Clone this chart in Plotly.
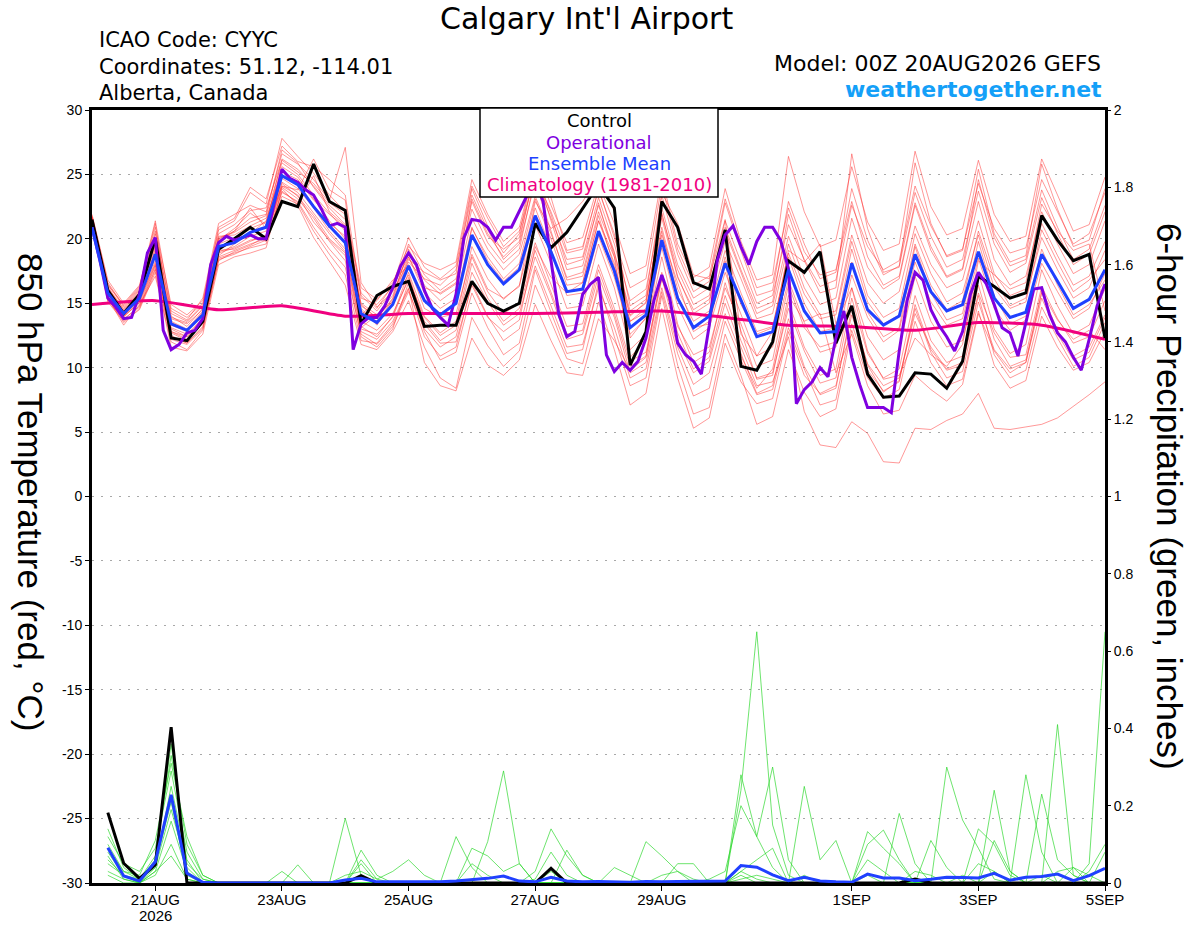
import pandas as pd
import plotly.graph_objects as go

# ---------------- data ----------------
times6 = pd.date_range("2026-08-20 00:00", periods=65, freq="6h")
times3 = pd.date_range("2026-08-20 00:00", periods=129, freq="3h")
times_day = pd.date_range("2026-08-20 00:00", periods=17, freq="D")

control_t = [21.5, 16.0, 14.2, 15.7, 20.0, 12.3, 12.1, 13.6, 19.2, 20.0, 20.9, 20.0, 22.9, 22.5, 25.8, 22.9, 22.2,
             13.4, 15.6, 16.3, 16.7, 13.2, 13.3, 13.3, 16.7, 15.0, 14.4, 15.0, 21.2, 19.3, 20.5, 22.4, 24.2,
             22.4, 10.2, 12.8, 22.9, 20.9, 16.6, 16.1, 20.7, 10.1, 9.8, 12.0, 18.3, 17.4, 19.0, 11.9, 14.8,
             9.5, 7.7, 7.8, 9.6, 9.5, 8.4, 10.5, 17.1, 16.3, 15.4, 15.8, 21.8, 19.9, 18.3, 18.8, 12.3]

mean_t = [20.9, 15.8, 14.2, 15.4, 18.8, 13.4, 12.9, 14.1, 19.4, 19.7, 20.5, 20.9, 24.9, 24.2, 22.5, 21.0, 19.7,
          14.2, 13.5, 14.9, 17.9, 15.2, 14.1, 15.0, 20.3, 18.0, 16.5, 17.6, 21.8, 19.0, 15.9, 16.1, 20.6,
          17.5, 13.1, 14.1, 19.9, 15.4, 13.1, 14.0, 18.1, 15.2, 12.4, 12.8, 17.6, 14.4, 12.7, 12.8, 18.1,
          14.5, 13.3, 14.0, 18.8, 15.9, 14.4, 14.9, 19.0, 15.4, 13.9, 14.3, 18.8, 16.7, 14.6, 15.3, 17.6]

oper_t = [20.9, 18.3, 15.4, 14.7, 13.8, 13.9, 15.7, 18.9, 20.1, 12.9, 11.4, 11.8, 12.7, 12.9, 13.8, 18.0,
          19.7, 20.2, 19.9, 20.1, 20.3, 20.0, 20.0, 22.7, 25.4, 24.7, 24.4, 23.8, 23.4, 22.3, 21.0, 21.2,
          20.9, 11.4, 13.4, 13.9, 13.9, 14.8, 16.2, 17.9, 18.9, 18.0, 16.0, 14.6, 13.9, 13.3, 15.7, 20.1,
          21.5, 21.4, 20.9, 19.9, 20.9, 20.9, 22.2, 23.4, 24.5, 22.9, 18.3, 14.1, 12.4, 12.8, 15.7, 16.5,
          17.0, 11.0, 9.7, 10.4, 9.8, 10.5, 12.3, 15.2, 17.2, 15.4, 11.9, 11.0, 10.5, 9.5, 13.3, 18.3,
          20.3, 21.0, 19.4, 18.0, 19.8, 20.9, 20.9, 19.9, 17.7, 7.2, 8.3, 8.9, 10.0, 9.3, 12.3, 14.4,
          10.8, 8.7, 6.9, 6.9, 6.9, 6.5, 11.3, 15.2, 17.4, 16.8, 14.5, 13.3, 12.4, 11.3, 12.8, 15.7,
          17.4, 16.5, 14.9, 13.1, 12.7, 10.9, 13.5, 16.1, 16.2, 14.1, 12.7, 12.0, 10.8, 9.8, 12.2, 14.8,
          16.5]

clim_t = [14.9, 15.2, 14.5, 14.8, 14.0, 14.2, 14.2, 14.2, 14.3, 14.4, 13.9, 13.3, 13.2, 12.9, 13.5, 13.3, 12.2]

m01 = [21.6, 16.3, 14.5, 15.9, 19.6, 14.0, 13.2, 14.6, 20.1, 20.5, 21.3, 21.8, 25.9, 25.0, 23.4, 22.0, 20.6,
       15.0, 14.1, 15.6, 19.0, 16.4, 15.2, 16.1, 21.6, 19.2, 17.6, 18.8, 23.3, 20.4, 17.0, 17.4, 22.1,
       18.9, 14.4, 15.3, 21.6, 17.0, 14.5, 15.3, 19.8, 16.9, 13.8, 14.2, 19.6, 16.2, 14.1, 14.4, 20.3,
       16.6, 15.0, 15.9, 21.0, 18.0, 16.2, 16.8, 21.4, 17.3, 15.6, 16.1, 21.2, 18.7, 16.4, 17.1, 19.8]
m02 = [21.3, 15.3, 13.7, 14.8, 17.9, 12.5, 11.9, 13.1, 18.4, 18.8, 19.4, 19.9, 23.6, 22.9, 20.9, 19.2, 17.8,
       12.6, 11.8, 13.2, 15.9, 13.0, 11.6, 12.4, 17.4, 15.1, 13.3, 14.2, 18.6, 15.6, 12.2, 12.6, 17.1,
       13.9, 9.6, 10.4, 16.2, 11.6, 8.7, 9.6, 14.2, 11.1, 8.0, 8.6, 13.8, 10.1, 7.9, 8.4, 14.6,
       10.2, 8.1, 9.0, 14.9, 11.4, 9.8, 10.2, 15.6, 11.0, 9.2, 9.8, 14.7, 12.3, 10.1, 10.8, 13.5]
m03 = [21.8, 16.6, 14.8, 16.2, 21.2, 12.8, 12.4, 13.9, 19.8, 20.6, 22.4, 20.8, 24.1, 23.8, 26.2, 23.8, 23.0,
       14.1, 15.2, 16.8, 17.9, 14.6, 13.9, 14.2, 18.8, 16.1, 15.4, 16.3, 22.9, 20.8, 21.6, 22.9, 24.8,
       22.1, 12.3, 13.9, 23.6, 21.2, 17.2, 16.9, 21.5, 12.6, 10.9, 12.8, 19.1, 18.2, 19.6, 13.4, 16.2,
       11.3, 9.1, 9.4, 12.3, 11.0, 10.1, 11.8, 18.3, 17.2, 16.1, 16.6, 22.7, 20.6, 19.1, 19.6, 14.4]
m04 = [21.4, 15.6, 14.0, 15.1, 18.3, 13.1, 12.6, 13.8, 19.1, 19.2, 19.8, 20.3, 24.4, 23.6, 22.0, 20.4, 19.0,
       13.6, 12.9, 14.2, 16.8, 13.9, 12.5, 13.3, 18.6, 15.9, 14.2, 15.0, 19.7, 16.4, 13.2, 13.4, 18.0,
       14.6, 10.5, 11.2, 17.0, 12.2, 9.6, 10.5, 15.0, 11.6, 8.6, 8.9, 12.4, 6.6, 4.0, 3.8, 5.8,
       4.9, 2.7, 2.6, 5.3, 5.2, 5.9, 6.4, 8.0, 5.3, 5.2, 5.4, 5.6, 6.1, 7.0, 7.9, 8.9]
m05 = [21.2, 15.1, 13.6, 14.5, 17.4, 11.6, 11.3, 12.6, 18.0, 18.6, 18.9, 19.3, 23.9, 22.6, 20.1, 18.2, 16.4,
       11.8, 11.4, 12.8, 15.2, 11.6, 9.2, 8.4, 13.9, 11.7, 10.1, 11.3, 16.4, 13.6, 10.7, 10.3, 15.1,
       11.4, 7.1, 8.0, 14.6, 9.2, 5.3, 6.1, 11.9, 8.9, 7.2, 7.6, 12.8, 9.4, 8.0, 8.6, 14.1,
       10.3, 8.6, 9.2, 14.2, 11.6, 9.9, 10.4, 15.8, 12.7, 10.8, 11.0, 16.3, 13.8, 11.9, 12.4, 15.2]
m06 = [21.9, 16.8, 15.0, 16.4, 20.9, 14.9, 14.1, 15.2, 20.7, 21.4, 23.6, 22.7, 27.8, 26.4, 25.1, 23.4, 22.1,
       16.2, 15.3, 16.6, 19.4, 18.1, 17.6, 18.2, 24.6, 21.9, 19.8, 20.9, 25.9, 22.6, 19.7, 20.1, 24.3,
       21.2, 17.3, 17.9, 24.8, 19.6, 17.0, 17.8, 23.9, 19.8, 16.8, 17.2, 26.4, 22.1, 19.4, 19.9, 25.6,
       21.3, 19.1, 19.6, 26.8, 22.5, 20.3, 20.8, 26.1, 21.9, 19.8, 20.2, 26.2, 23.4, 20.6, 21.1, 24.8]
m07 = [21.5, 15.9, 14.3, 15.5, 19.2, 13.6, 13.0, 14.4, 19.6, 20.1, 20.8, 21.3, 25.6, 24.8, 23.1, 21.4, 20.0,
       14.8, 13.9, 15.3, 18.6, 15.8, 14.6, 15.4, 20.9, 18.3, 16.7, 17.8, 22.4, 19.2, 15.6, 15.8, 20.2,
       17.0, 12.6, 13.8, 19.3, 14.8, 12.2, 13.1, 17.4, 14.1, 10.9, 11.6, 16.8, 13.5, 11.2, 11.6, 17.2,
       13.9, 12.0, 12.9, 18.2, 15.1, 13.3, 13.8, 18.5, 14.6, 12.9, 13.7, 18.1, 15.9, 13.8, 14.6, 17.3]
m08 = [21.7, 16.1, 14.6, 16.0, 20.4, 14.4, 13.7, 15.4, 21.2, 21.9, 22.6, 22.1, 26.6, 25.8, 24.6, 23.0, 27.1,
       16.6, 14.7, 15.9, 18.2, 16.9, 16.4, 17.6, 23.4, 20.7, 18.4, 19.6, 24.4, 20.6, 16.8, 17.1, 21.8,
       17.8, 13.6, 14.3, 20.6, 15.6, 12.8, 13.6, 18.6, 14.9, 12.6, 13.1, 18.9, 15.7, 13.8, 14.1, 19.8,
       15.6, 13.9, 14.6, 20.4, 17.3, 15.1, 15.8, 20.3, 16.2, 14.6, 15.1, 20.7, 18.2, 15.9, 16.8, 18.4]
m09 = [21.1, 15.4, 13.3, 14.9, 17.1, 12.0, 11.4, 12.9, 18.3, 19.0, 19.5, 20.2, 24.1, 23.4, 21.3, 19.9, 18.7,
       12.8, 12.2, 13.6, 16.2, 10.4, 8.6, 8.2, 12.3, 10.2, 9.4, 10.6, 14.9, 12.1, 9.6, 9.4, 13.8,
       12.1, 9.8, 10.8, 16.9, 13.2, 11.0, 11.6, 16.2, 13.4, 10.1, 10.6, 16.4, 13.1, 11.6, 12.0, 18.2,
       14.3, 12.4, 13.1, 19.4, 15.8, 13.7, 14.2, 19.8, 15.6, 13.4, 14.0, 19.2, 16.4, 14.1, 14.9, 16.8]
m10 = [21.6, 16.2, 14.4, 15.8, 19.9, 13.9, 13.5, 14.8, 20.2, 20.3, 21.0, 21.6, 25.2, 24.6, 23.0, 21.9, 20.9,
       15.6, 14.4, 16.0, 19.6, 17.2, 16.0, 16.9, 22.3, 19.7, 18.1, 19.2, 24.8, 21.6, 18.4, 18.6, 23.2,
       19.6, 15.2, 16.1, 22.4, 18.0, 15.4, 16.2, 21.4, 18.2, 15.0, 15.6, 21.1, 18.4, 16.3, 16.8, 22.6,
       19.4, 17.6, 18.3, 24.1, 21.0, 18.7, 19.2, 24.3, 20.8, 18.9, 19.3, 24.6, 22.1, 19.6, 20.4, 23.6]
m11 = [21.3, 15.7, 14.1, 15.3, 18.6, 13.0, 12.4, 13.6, 19.0, 19.4, 20.2, 20.6, 24.7, 23.9, 22.4, 20.6, 19.2,
       13.2, 12.4, 14.0, 17.4, 14.0, 12.7, 13.6, 19.4, 16.9, 15.3, 16.4, 21.1, 18.1, 14.6, 14.8, 19.6,
       16.2, 11.4, 12.6, 18.6, 13.4, 10.4, 11.2, 16.6, 12.8, 9.1, 9.4, 15.1, 11.6, 9.4, 9.9, 16.2,
       12.4, 10.6, 11.4, 17.1, 13.6, 11.6, 12.1, 17.4, 13.0, 11.1, 11.8, 17.6, 14.8, 12.6, 13.3, 16.1]
m12 = [21.5, 16.0, 14.2, 15.6, 19.4, 13.3, 12.8, 14.2, 19.9, 20.8, 22.0, 21.1, 26.2, 25.4, 24.1, 22.6, 21.5,
       14.6, 13.3, 15.0, 18.4, 17.4, 16.8, 17.3, 23.9, 21.0, 18.9, 20.4, 26.0, 23.2, 19.1, 19.4, 23.8,
       20.4, 14.8, 15.6, 23.4, 18.8, 15.9, 16.7, 22.8, 19.1, 15.6, 16.0, 22.9, 19.6, 16.9, 17.4, 23.9,
       19.9, 17.2, 17.9, 23.6, 20.2, 17.8, 18.4, 23.7, 19.6, 17.4, 18.1, 23.2, 20.4, 18.0, 18.8, 22.1]
m13 = [21.4, 15.5, 13.9, 15.2, 18.1, 12.7, 12.1, 13.5, 18.7, 19.6, 20.4, 19.8, 23.3, 22.7, 24.9, 22.1, 21.0,
       13.1, 14.1, 15.1, 17.2, 13.4, 11.9, 12.0, 16.4, 13.9, 12.8, 13.7, 19.4, 17.0, 15.8, 16.6, 21.4,
       18.6, 10.8, 12.2, 20.3, 16.6, 13.1, 13.4, 18.3, 10.9, 8.4, 9.9, 15.6, 13.6, 14.2, 9.6, 12.6,
       8.6, 6.4, 6.7, 9.4, 8.3, 7.4, 8.7, 14.2, 11.3, 9.6, 10.4, 15.9, 13.7, 12.2, 12.9, 11.4]
m14 = [21.6, 15.8, 14.4, 15.5, 19.0, 13.8, 13.4, 14.5, 19.3, 19.8, 20.4, 21.4, 25.3, 24.2, 22.6, 21.2, 20.2,
       14.4, 13.6, 15.2, 18.0, 15.3, 14.2, 15.1, 20.8, 18.6, 16.9, 18.1, 23.1, 20.0, 16.4, 16.6, 21.4,
       18.1, 13.6, 14.6, 20.9, 16.1, 13.6, 14.4, 19.1, 15.8, 12.8, 13.2, 18.6, 15.0, 12.8, 13.1, 19.2,
       15.1, 13.4, 14.1, 19.6, 16.4, 14.5, 15.2, 20.6, 16.9, 14.8, 15.4, 20.1, 17.6, 15.4, 16.2, 19.1]
m15 = [21.2, 15.2, 13.8, 14.7, 17.7, 12.2, 11.8, 13.0, 18.6, 19.1, 19.6, 20.0, 24.0, 23.1, 21.6, 19.8, 18.3,
       12.4, 11.6, 13.0, 16.6, 12.8, 10.6, 11.2, 15.8, 13.1, 11.0, 11.9, 17.6, 14.3, 11.1, 11.4, 16.6,
       12.4, 8.6, 9.2, 15.6, 10.2, 6.4, 6.9, 12.6, 9.4, 5.6, 6.2, 11.4, 8.1, 6.2, 6.8, 12.9,
       9.2, 7.6, 8.3, 13.6, 10.4, 8.6, 9.1, 14.4, 10.2, 8.4, 9.0, 14.0, 11.6, 9.8, 10.4, 12.8]
m16 = [21.7, 16.4, 14.9, 16.3, 21.4, 14.6, 13.9, 15.0, 20.9, 21.6, 24.0, 23.1, 27.2, 26.0, 25.6, 24.6, 23.4,
       15.4, 14.9, 16.3, 18.6, 16.2, 15.8, 16.6, 22.9, 20.2, 19.2, 20.1, 25.2, 21.9, 18.0, 18.4, 22.6,
       19.0, 14.1, 15.0, 21.9, 17.6, 14.9, 15.6, 20.6, 17.4, 14.2, 14.8, 20.2, 17.0, 14.9, 15.4, 21.6,
       17.8, 16.1, 16.9, 22.6, 19.1, 17.0, 17.6, 22.9, 18.4, 16.4, 17.1, 22.1, 19.6, 17.3, 18.0, 21.4]
m17 = [21.5, 16.1, 14.3, 15.6, 19.8, 13.5, 12.9, 14.3, 20.0, 20.6, 21.6, 21.9, 26.9, 25.9, 24.0, 22.4, 21.1,
       14.9, 13.8, 15.4, 19.2, 16.8, 15.7, 16.5, 23.1, 20.4, 18.6, 19.8, 25.4, 21.4, 17.6, 17.9, 22.8,
       18.6, 14.0, 15.1, 22.0, 17.1, 14.2, 15.0, 20.9, 17.6, 14.6, 15.1, 21.9, 18.3, 15.8, 16.2, 26.6,
       20.8, 17.4, 17.8, 25.9, 21.2, 18.6, 19.1, 25.4, 20.4, 18.2, 18.7, 25.8, 22.3, 19.4, 19.9, 23.9]
m18 = [21.3, 15.5, 14.0, 15.0, 18.0, 12.8, 12.2, 13.4, 18.9, 19.3, 19.9, 20.1, 24.3, 23.3, 21.8, 20.0, 18.9,
       13.0, 12.6, 13.9, 17.0, 13.6, 12.1, 12.9, 18.1, 15.4, 13.6, 14.6, 19.1, 15.9, 12.6, 12.9, 17.6,
       14.2, 10.1, 10.9, 17.4, 12.7, 9.9, 10.8, 15.6, 12.1, 9.2, 9.6, 14.6, 11.3, 8.8, 9.2, 15.4,
       11.1, 9.2, 9.9, 15.6, 12.1, 10.4, 10.9, 16.4, 12.2, 10.1, 10.6, 15.8, 12.9, 10.9, 11.6, 14.1]
m19 = [21.7, 16.5, 14.7, 16.1, 20.6, 14.2, 13.6, 14.9, 20.4, 21.1, 22.2, 22.4, 26.1, 25.2, 24.3, 22.8, 21.9,
       15.8, 14.6, 16.4, 20.1, 17.8, 16.9, 17.9, 24.1, 21.6, 19.4, 20.6, 24.9, 22.1, 18.9, 19.2, 23.9,
       20.1, 16.2, 16.9, 24.2, 19.2, 16.4, 17.1, 23.1, 19.4, 16.2, 16.6, 22.4, 19.0, 17.2, 17.6, 22.9,
       18.6, 16.4, 17.1, 22.8, 19.4, 17.1, 17.7, 24.6, 20.1, 17.9, 18.4, 23.8, 20.9, 18.4, 19.2, 22.6]
m20 = [21.2, 15.4, 13.5, 14.6, 17.6, 12.4, 11.9, 13.2, 18.5, 18.9, 19.3, 19.6, 23.7, 22.8, 20.6, 18.8, 17.2,
       12.1, 11.9, 13.4, 16.1, 12.4, 10.9, 11.6, 16.6, 14.0, 12.1, 13.0, 17.9, 14.8, 11.6, 11.8, 16.2,
       13.1, 9.2, 9.9, 15.9, 11.1, 7.8, 8.4, 13.6, 10.6, 7.9, 8.3, 13.1, 9.9, 7.1, 7.5, 13.4,
       9.8, 8.2, 8.9, 14.6, 11.2, 9.2, 9.7, 15.1, 11.4, 9.9, 10.4, 15.4, 12.6, 10.6, 11.2, 13.9]
members_t = [m01, m02, m03, m04, m05, m06, m07, m08, m09, m10,
             m11, m12, m13, m14, m15, m16, m17, m18, m19, m20]

# 6-hour precipitation (inches), valid from +6h to +384h
control_p = [0.182, 0.051, 0.012, 0.047, 0.403, 0, 0, 0, 0, 0, 0, 0, 0, 0, 0, 0,
             0.019, 0, 0, 0, 0, 0, 0, 0, 0, 0, 0, 0, 0.038, 0, 0, 0,
             0, 0, 0, 0, 0, 0, 0, 0, 0, 0, 0, 0, 0, 0, 0, 0,
             0, 0, 0, 0.01, 0, 0, 0, 0, 0, 0, 0, 0, 0, 0, 0, 0]
mean_p = [0.091, 0.018, 0.005, 0.055, 0.228, 0.025, 0.002, 0, 0, 0, 0, 0, 0, 0, 0, 0.008,
          0.012, 0.003, 0.003, 0.004, 0.003, 0.003, 0.005, 0.008, 0.012, 0.018, 0.005, 0.003, 0.015, 0.005, 0.003, 0.004,
          0.003, 0.002, 0.004, 0.003, 0.004, 0.004, 0.005, 0.005, 0.045, 0.041, 0.021, 0.006, 0.015, 0.005, 0.003, 0.002,
          0.023, 0.013, 0.013, 0.006, 0.01, 0.015, 0.014, 0.013, 0.025, 0.007, 0.015, 0.017, 0.023, 0.006, 0.019, 0.038]
g01 = [0.14, 0.04, 0.01, 0.06, 0.36, 0.05, 0.01, 0, 0, 0, 0, 0.03, 0, 0, 0, 0.167,
       0.02, 0, 0, 0, 0, 0, 0, 0, 0.107, 0.29, 0.05, 0, 0.03, 0, 0, 0,
       0, 0, 0, 0, 0, 0, 0, 0, 0.24, 0.65, 0.15, 0.02, 0, 0, 0, 0,
       0, 0, 0, 0, 0, 0.30, 0.163, 0.09, 0.01, 0, 0, 0, 0, 0, 0.03, 0.10]
g02 = [0.10, 0.03, 0.02, 0.11, 0.31, 0.12, 0.02, 0, 0, 0, 0, 0, 0.047, 0, 0, 0,
       0.085, 0.02, 0, 0, 0, 0, 0.12, 0.04, 0, 0, 0, 0.03, 0.14, 0.07, 0.02, 0,
       0, 0, 0, 0, 0.05, 0.05, 0, 0, 0.28, 0.12, 0.30, 0.06, 0, 0, 0, 0,
       0.133, 0.09, 0.05, 0, 0, 0, 0, 0, 0.24, 0.03, 0, 0, 0, 0, 0.05, 0.65]
g03 = [0.08, 0.02, 0, 0.04, 0.25, 0.06, 0, 0, 0, 0, 0, 0, 0, 0, 0, 0,
       0.06, 0.01, 0.03, 0.06, 0.02, 0, 0, 0.09, 0.07, 0.03, 0.05, 0, 0, 0.085, 0.02, 0,
       0, 0, 0.107, 0.07, 0.03, 0, 0, 0, 0.02, 0, 0, 0, 0.25, 0.06, 0.11, 0,
       0.10, 0.137, 0.06, 0, 0, 0, 0, 0.14, 0.10, 0.02, 0, 0, 0, 0, 0, 0]
g04 = [0.05, 0.02, 0, 0.03, 0.16, 0.03, 0, 0, 0, 0, 0, 0, 0, 0, 0, 0.02,
       0.03, 0.01, 0, 0, 0, 0, 0, 0.05, 0.02, 0, 0, 0.01, 0.08, 0.02, 0, 0,
       0.04, 0.02, 0, 0, 0, 0, 0.01, 0.03, 0.20, 0.12, 0.04, 0, 0, 0, 0, 0,
       0, 0, 0.18, 0.05, 0, 0, 0, 0, 0, 0, 0.28, 0.08, 0, 0, 0, 0]
g05 = [0.12, 0.05, 0.03, 0.09, 0.29, 0.08, 0.01, 0, 0, 0, 0, 0, 0, 0, 0, 0,
       0, 0, 0, 0, 0, 0, 0, 0, 0, 0, 0, 0, 0, 0, 0, 0,
       0, 0, 0, 0, 0, 0, 0, 0, 0.03, 0.06, 0.09, 0, 0, 0, 0, 0,
       0.06, 0.03, 0, 0, 0.11, 0.04, 0, 0, 0, 0, 0, 0.23, 0.06, 0.02, 0, 0]
g06 = [0.07, 0.01, 0, 0.05, 0.21, 0.02, 0, 0, 0, 0, 0, 0, 0, 0, 0, 0,
       0.05, 0, 0, 0, 0, 0, 0, 0, 0, 0, 0, 0, 0, 0, 0, 0,
       0, 0, 0, 0, 0, 0, 0, 0, 0, 0, 0, 0, 0, 0, 0, 0,
       0, 0, 0, 0, 0, 0, 0, 0, 0, 0, 0, 0, 0.41, 0.02, 0, 0]
g07 = [0.03, 0.01, 0, 0.02, 0.10, 0.01, 0, 0, 0, 0, 0, 0, 0, 0, 0, 0,
       0, 0, 0, 0, 0, 0, 0, 0, 0, 0, 0, 0, 0, 0, 0, 0,
       0, 0, 0, 0, 0, 0, 0, 0, 0.01, 0.02, 0.01, 0, 0.02, 0, 0, 0,
       0.02, 0, 0, 0, 0, 0, 0.02, 0, 0.03, 0, 0, 0.02, 0, 0.04, 0.02, 0]
g08 = [0.09, 0.03, 0.01, 0.07, 0.33, 0.10, 0.02, 0, 0, 0, 0, 0, 0, 0, 0, 0,
       0, 0, 0, 0, 0, 0, 0, 0, 0, 0, 0, 0, 0, 0, 0, 0,
       0, 0, 0, 0, 0, 0, 0, 0, 0, 0, 0, 0, 0, 0, 0, 0,
       0, 0, 0, 0, 0, 0, 0, 0, 0, 0, 0, 0, 0, 0, 0, 0]
g09 = [0.02, 0, 0, 0.03, 0.07, 0.01, 0, 0, 0, 0, 0, 0, 0, 0, 0, 0,
       0, 0, 0, 0, 0, 0, 0, 0, 0, 0, 0, 0, 0, 0, 0, 0,
       0, 0, 0, 0.02, 0.03, 0.01, 0, 0, 0, 0, 0, 0, 0, 0, 0, 0,
       0, 0, 0, 0.03, 0.02, 0, 0, 0.05, 0.03, 0, 0, 0, 0.03, 0.04, 0, 0.08]
g10 = [0.06, 0.02, 0.01, 0.04, 0.19, 0.04, 0, 0, 0, 0, 0, 0, 0, 0, 0, 0,
       0, 0, 0, 0, 0, 0, 0, 0, 0, 0, 0, 0, 0, 0, 0, 0,
       0, 0, 0, 0, 0, 0, 0, 0, 0.03, 0.01, 0, 0, 0, 0, 0, 0,
       0, 0, 0, 0, 0, 0, 0, 0, 0.11, 0.03, 0, 0, 0, 0, 0, 0]
members_p = [g01, g02, g03, g04, g05, g06, g07, g08, g09, g10]

xtick_dates = ["2026-08-21", "2026-08-23", "2026-08-25", "2026-08-27",
               "2026-08-29", "2026-09-01", "2026-09-03", "2026-09-05"]
xtick_labels = ["21AUG", "23AUG", "25AUG", "27AUG", "29AUG", "1SEP", "3SEP", "5SEP"]
year_label = "2026"
ytick_left = [-30, -25, -20, -15, -10, -5, 0, 5, 10, 15, 20, 25, 30]
ytick_left_labels = ["-30", "-25", "-20", "-15", "-10", "-5", "0", "5", "10", "15", "20", "25", "30"]
ytick_right = [0, 0.2, 0.4, 0.6, 0.8, 1, 1.2, 1.4, 1.6, 1.8, 2]
ytick_right_labels = ["0", "0.2", "0.4", "0.6", "0.8", "1", "1.2", "1.4", "1.6", "1.8", "2"]

# ---------------- styles ----------------
FONT = "Liberation Sans, Arial, Helvetica, sans-serif"
FONT_WIDE = "DejaVu Sans, Verdana, sans-serif"
C_RED = "rgba(255,45,45,0.62)"
C_GREEN = "rgba(40,215,40,0.85)"
C_BLACK = "#000000"
C_PURPLE = "#7f00e0"
C_BLUE = "#2040ff"
C_MAGENTA = "#f0007f"

fig = go.Figure()

ptimes = times6[1:]
for m in members_t:
    fig.add_trace(go.Scatter(x=times6[:len(m)], y=m, mode="lines",
                             line=dict(color=C_RED, width=0.8), hoverinfo="skip", showlegend=False))
for g in members_p:
    fig.add_trace(go.Scatter(x=ptimes[:len(g)], y=g, mode="lines", yaxis="y2",
                             line=dict(color=C_GREEN, width=0.8), hoverinfo="skip", showlegend=False))
fig.add_trace(go.Scatter(x=ptimes[:len(control_p)], y=control_p, mode="lines", yaxis="y2",
                         line=dict(color=C_BLACK, width=3), showlegend=False))
fig.add_trace(go.Scatter(x=ptimes[:len(mean_p)], y=mean_p, mode="lines", yaxis="y2",
                         line=dict(color=C_BLUE, width=3), showlegend=False))

fig.add_trace(go.Scatter(x=times_day[:len(clim_t)], y=clim_t, mode="lines",
                         line=dict(color=C_MAGENTA, width=3, shape="spline", smoothing=0.6), showlegend=False))
fig.add_trace(go.Scatter(x=times6[:len(control_t)], y=control_t, mode="lines",
                         line=dict(color=C_BLACK, width=3), showlegend=False))
fig.add_trace(go.Scatter(x=times3[:len(oper_t)], y=oper_t, mode="lines",
                         line=dict(color=C_PURPLE, width=3), showlegend=False))
fig.add_trace(go.Scatter(x=times6[:len(mean_t)], y=mean_t, mode="lines",
                         line=dict(color=C_BLUE, width=3), showlegend=False))

L, R, T, B = 92, 95, 110, 44
W, H = 1200, 927
PW, PH = W - L - R, H - T - B


def px(xp):
    return (xp - L) / PW


def py(yp):
    return (H - B - yp) / PH


fig.update_layout(
    width=W, height=H,
    margin=dict(l=L, r=R, t=T, b=B, pad=0, autoexpand=False),
    paper_bgcolor="white", plot_bgcolor="white",
    font=dict(family=FONT, color="black", size=14),
    showlegend=False,
    xaxis=dict(type="date", range=["2026-08-20 00:00", "2026-09-05 00:00"],
               tickvals=xtick_dates, ticktext=xtick_labels,
               ticks="outside", ticklen=5, tickwidth=1, tickcolor="black",
               showline=True, linewidth=3, linecolor="black", mirror=True,
               showgrid=False, zeroline=False, tickfont=dict(size=15), automargin=False,
               ticklabelstandoff=-4),
    yaxis=dict(range=[-30, 30], tickvals=ytick_left, ticktext=ytick_left_labels,
               ticks="outside", ticklen=4,
               tickcolor="black", showline=True, linewidth=3, linecolor="black", mirror=True,
               showgrid=True, gridcolor="#a8a8a8", gridwidth=1, griddash="2px,7px",
               zeroline=False, tickfont=dict(size=14), automargin=False),
    yaxis2=dict(range=[0, 2], overlaying="y", side="right", tickvals=ytick_right,
                ticktext=ytick_right_labels, ticks="outside", ticklen=5, tickcolor="black",
                showline=False, showgrid=False, zeroline=False, tickfont=dict(size=14),
                automargin=False),
)

annots = [
    dict(text="Calgary Int'l Airport", x=px(586), y=py(19), xanchor="center",
         yanchor="middle", font=dict(size=30, family=FONT_WIDE)),
    dict(text="ICAO Code: CYYC", x=px(97), y=py(40), xanchor="left", yanchor="middle",
         font=dict(size=21, family=FONT_WIDE)),
    dict(text="Coordinates: 51.12, -114.01", x=px(97), y=py(67), xanchor="left", yanchor="middle",
         font=dict(size=21, family=FONT_WIDE)),
    dict(text="Alberta, Canada", x=px(97), y=py(93), xanchor="left", yanchor="middle",
         font=dict(size=21, family=FONT_WIDE)),
    dict(text="Model: 00Z 20AUG2026 GEFS", x=px(1103), y=py(63), xanchor="right", yanchor="middle",
         font=dict(size=22, family=FONT_WIDE)),
    dict(text="<b>weathertogether.net</b>", x=px(1104), y=py(89), xanchor="right", yanchor="middle",
         font=dict(size=22, color="#14a0f8", family=FONT_WIDE)),
    dict(text="Control", x=px(599), y=py(121), xanchor="center", yanchor="middle",
         font=dict(size=18, color=C_BLACK, family=FONT_WIDE)),
    dict(text="Operational", x=px(599), y=py(142), xanchor="center", yanchor="middle",
         font=dict(size=18, color=C_PURPLE, family=FONT_WIDE)),
    dict(text="Ensemble Mean", x=px(599), y=py(163), xanchor="center", yanchor="middle",
         font=dict(size=18, color=C_BLUE, family=FONT_WIDE)),
    dict(text="Climatology (1981-2010)", x=px(599), y=py(185), xanchor="center", yanchor="middle",
         font=dict(size=18, color=C_MAGENTA, family=FONT_WIDE)),
    dict(text="850 hPa Temperature (red, °C)", x=px(31), y=py(492), textangle=90,
         xanchor="center", yanchor="middle", font=dict(size=35)),
    dict(text="6-hour Precipitation (green, inches)", x=px(1170), y=py(496), textangle=90,
         xanchor="center", yanchor="middle", font=dict(size=35)),
    dict(text=year_label, x=px(155), y=py(915), xanchor="center", yanchor="middle",
         font=dict(size=15)),
]
for a in annots:
    a.update(xref="paper", yref="paper", showarrow=False)
fig.update_layout(annotations=annots)

fig.add_shape(type="rect", xref="paper", yref="paper", x0=px(480), x1=px(718), y0=py(197), y1=py(108),
              fillcolor="white", line=dict(color="black", width=1.5), layer="above")

fig.write_html("out.html", config={"displayModeBar": False},
               post_script="document.body.style.margin='0px';document.body.style.overflow='hidden';")
